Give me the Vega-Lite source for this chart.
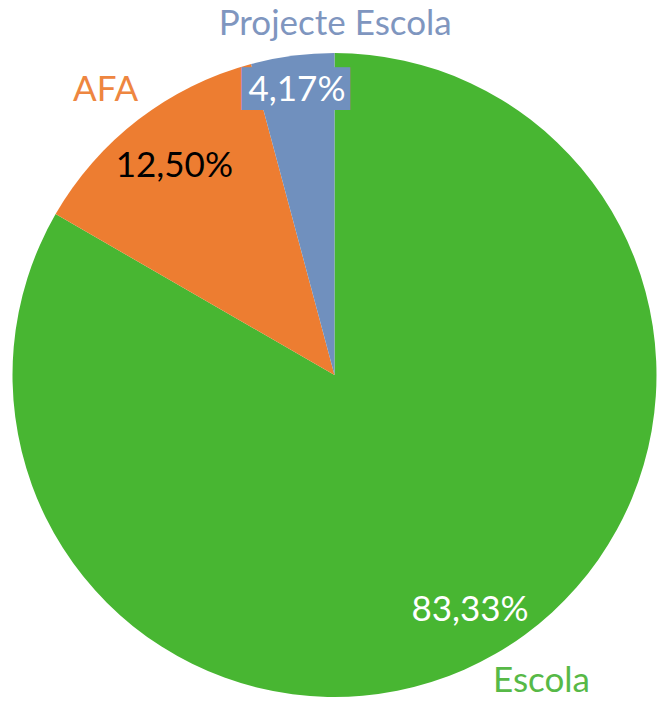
{
  "$schema": "https://vega.github.io/schema/vega-lite/v6.json",
  "width": 645,
  "height": 644,
  "autosize": {"type": "none"},
  "padding": {"left": 12, "top": 53, "right": 0, "bottom": 4},
  "background": "white",
  "view": {"stroke": null},
  "config": {"text": {"font": "Lato", "fontSize": 35}},
  "data": {
    "values": [
      {"cat": "Escola", "pct": 83.33, "label": "83,33%", "rank": 1},
      {"cat": "AFA", "pct": 12.5, "label": "12,50%", "rank": 2},
      {"cat": "Projecte Escola", "pct": 4.17, "label": "4,17%", "rank": 3}
    ]
  },
  "encoding": {
    "theta": {"field": "pct", "type": "quantitative", "stack": true},
    "order": {"field": "rank", "type": "quantitative"}
  },
  "layer": [
    {
      "mark": {"type": "arc", "outerRadius": 322},
      "encoding": {
        "color": {
          "field": "cat",
          "type": "nominal",
          "scale": {"domain": ["Escola", "AFA", "Projecte Escola"], "range": ["#48B632", "#ED7D31", "#7090BE"]},
          "legend": null
        }
      }
    },
    {
      "mark": {"type": "text", "radius": 287, "dx": -1, "dy": 0, "font": "DejaVu Sans Mono", "fontSize": 36, "color": "#7090BE", "align": "center", "baseline": "middle"},
      "encoding": {"text": {"condition": {"test": "datum.cat === 'Projecte Escola'", "value": "█████"}, "value": ""}}
    },
    {
      "mark": {"type": "text", "radius": 271, "color": "white", "align": "center", "baseline": "middle"},
      "encoding": {"text": {"condition": {"test": "datum.cat === 'Escola'", "field": "label"}, "value": ""}}
    },
    {
      "mark": {"type": "text", "radius": 263, "color": "black", "align": "center", "baseline": "middle"},
      "encoding": {"text": {"condition": {"test": "datum.cat === 'AFA'", "field": "label"}, "value": ""}}
    },
    {
      "mark": {"type": "text", "radius": 287, "color": "white", "align": "center", "baseline": "middle"},
      "encoding": {"text": {"condition": {"test": "datum.cat === 'Projecte Escola'", "field": "label"}, "value": ""}}
    },
    {
      "mark": {"type": "text", "radius": 370, "dx": 22, "dy": -14, "color": "#57B947", "align": "center", "baseline": "middle"},
      "encoding": {"text": {"condition": {"test": "datum.cat === 'Escola'", "field": "cat"}, "value": ""}}
    },
    {
      "mark": {"type": "text", "radius": 366, "dx": -6, "dy": 5, "color": "#EE8640", "align": "center", "baseline": "middle"},
      "encoding": {"text": {"condition": {"test": "datum.cat === 'AFA'", "field": "cat"}, "value": ""}}
    },
    {
      "mark": {"type": "text", "radius": 370, "dx": 49, "dy": 16, "color": "#7F96BF", "align": "center", "baseline": "middle"},
      "encoding": {"text": {"condition": {"test": "datum.cat === 'Projecte Escola'", "field": "cat"}, "value": ""}}
    }
  ]
}
